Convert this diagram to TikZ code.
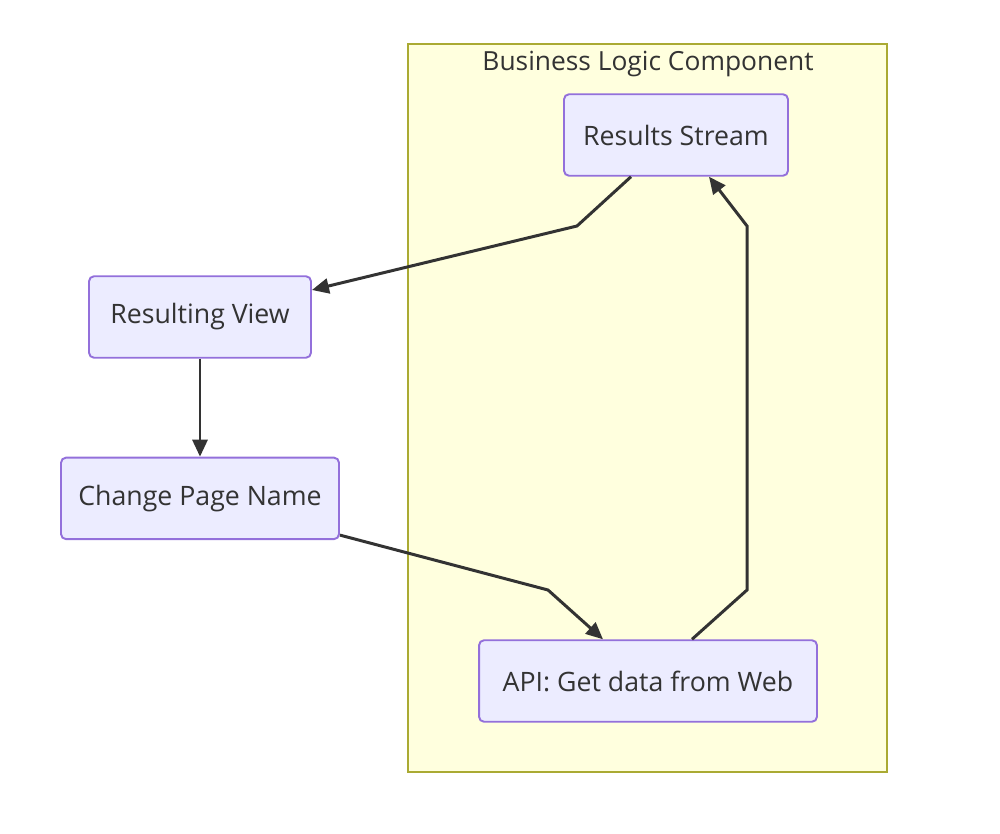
\documentclass[tikz,border=0pt]{standalone}
\usepackage{fontspec}
\setmainfont{Open Sans}
\usepackage{tikz}
\usetikzlibrary{positioning, arrows.meta, calc}
\definecolor{nodefill}{HTML}{ECECFF}
\definecolor{nodeline}{HTML}{9370DB}
\definecolor{clusterfill}{HTML}{FFFFDE}
\definecolor{clusterline}{HTML}{AAAA33}
\definecolor{edgegrey}{HTML}{333333}

\begin{document}
\begin{tikzpicture}[
    x=0.02cm, y=-0.02cm,
    block/.style={draw=nodeline, line width=1.1pt, rectangle, rounded corners=0.1cm, fill=nodefill, minimum height=1.63cm, text=edgegrey, font=\fontsize{15.2}{18}\selectfont},
    cluster/.style={draw=clusterline, line width=0.9pt, rectangle, fill=clusterfill},
    edge/.style={draw=edgegrey, line width=1.7pt, -{Triangle[length=0.34cm, width=0.3cm]}},
    clusterlabel/.style={text=edgegrey, font=\fontsize{15}{18}\selectfont}
]
\useasboundingbox (0,0) rectangle (1000,834);

% Gruppe
\node[cluster, minimum width=9.58cm, minimum height=14.56cm] (blc) at (647.5,408) {};
\node[clusterlabel] (blclabel) at (648,64) {Business Logic Component};

% Knoten
\node[block, minimum width=4.48cm] (rs) at (676,135) {Results Stream};
\node[block, minimum width=4.44cm] (rv) at (200,317) {Resulting View};
\node[block, minimum width=5.56cm, below=1.96cm of rv] (cpn) {Change Page Name};
\node[block, minimum width=6.76cm] (api) at (648,681) {API: Get data from Web};

% Knicke
\coordinate (k1) at (577,226);
\coordinate (k2) at (548,590);
\coordinate (k3) at (747,590);
\coordinate (k4) at (747,226);

% Kanten
\draw[edge] ([xshift=-0.9cm]rs.south) -- (k1) -- ([yshift=0.54cm]rv.east);
\draw[edge] (rv.south) -- (cpn.north);
\draw[edge] ([yshift=0.1cm]cpn.south east) -- (k2) -- ([xshift=-0.9cm]api.north);
\draw[edge] ([xshift=0.88cm]api.north) -- (k3) -- (k4) -- ([xshift=0.66cm]rs.south);

\end{tikzpicture}
\end{document}
